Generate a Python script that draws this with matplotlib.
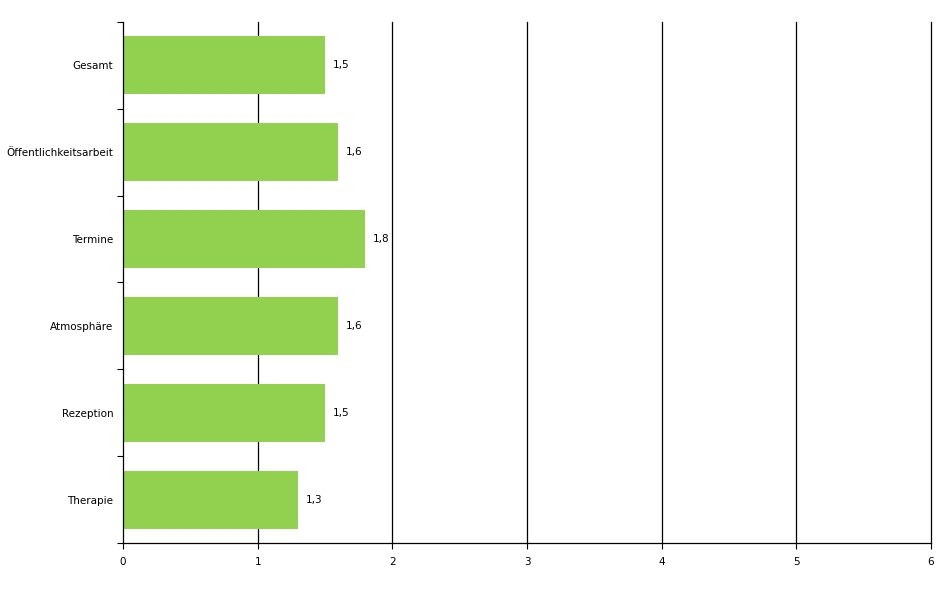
import matplotlib
matplotlib.use("Agg")
import matplotlib.pyplot as plt
import numpy as np

CATEGORIES = ["Gesamt", "Öffentlichkeitsarbeit", "Termine", "Atmosphäre", "Rezeption", "Therapie"]
VALUES = [1.5, 1.6, 1.8, 1.6, 1.5, 1.3]
X_TICKS = [0, 1, 2, 3, 4, 5, 6]

BAR_COLOR = "#92D050"
FONT_SIZE = 7.5

plt.rcParams["font.family"] = ["DejaVu Sans"]

fig = plt.figure(figsize=(9.52, 5.92), dpi=100)
fig.patch.set_facecolor("white")
ax = fig.add_axes([123 / 952, 1 - 543 / 592, (931 - 123) / 952, (543 - 22) / 592])

y = np.arange(len(CATEGORIES))
ax.barh(y, VALUES, height=0.667, color=BAR_COLOR, zorder=3)
for yi, v in zip(y, VALUES):
    ax.text(v + 0.055, yi, f"{v:.1f}".replace(".", ","), va="center", ha="left",
            fontsize=FONT_SIZE, color="black")

ax.set_xlim(0, 6)
ax.set_ylim(len(CATEGORIES) - 0.5, -0.5)
ax.set_xticks(X_TICKS)
ax.set_xticklabels([str(t) for t in X_TICKS], fontsize=FONT_SIZE)
ax.set_yticks(y)
ax.set_yticklabels(CATEGORIES, fontsize=FONT_SIZE)
ax.set_yticks(np.arange(-0.5, len(CATEGORIES), 1.0), minor=True)
ax.tick_params(axis="y", which="major", length=0, pad=7)
ax.tick_params(axis="y", which="minor", length=4, width=0.8, direction="out")
ax.tick_params(axis="x", length=4, width=0.8, pad=6)

for gx in X_TICKS[1:]:
    ax.axvline(gx, color="black", linewidth=0.9, zorder=2, clip_on=False)

for side in ("top", "right"):
    ax.spines[side].set_visible(False)
for side in ("left", "bottom"):
    ax.spines[side].set_linewidth(0.9)
    ax.spines[side].set_zorder(4)

fig.savefig("out.png", dpi=100, facecolor="white")
